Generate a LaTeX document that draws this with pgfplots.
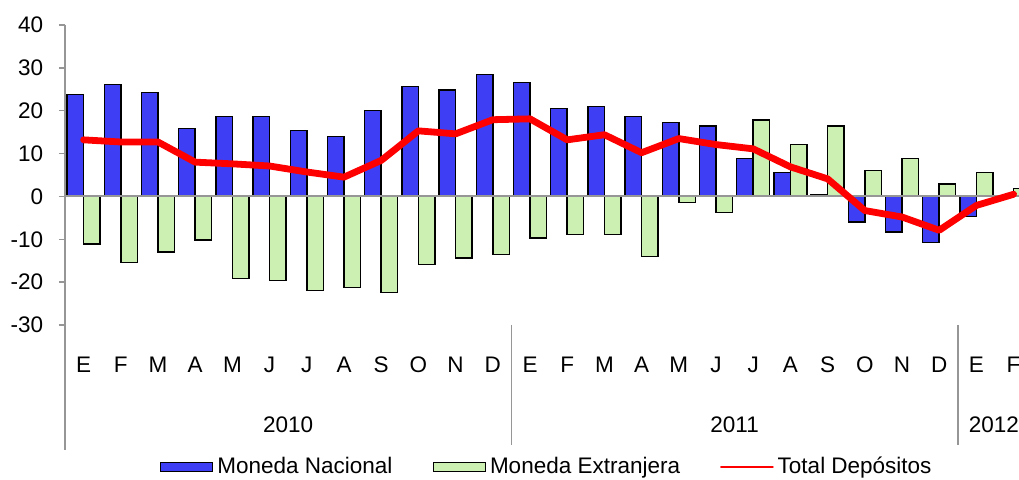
\documentclass[border=0pt]{standalone}
\usepackage{fontspec}
\setmainfont{Liberation Sans}
\usepackage{pgfplots}
\pgfplotsset{compat=1.18}
\definecolor{mnblue}{RGB}{62,62,245}
\definecolor{megreen}{RGB}{204,240,178}
\definecolor{axgray}{RGB}{150,150,150}
\begin{document}
\fontsize{11.25pt}{13pt}\selectfont
\begin{tikzpicture}
\useasboundingbox (0,0) rectangle (509.5pt,240pt);
\begin{axis}[
    at={(32.5pt,77.5pt)}, anchor=south west,
    scale only axis, width=477pt, height=150pt,
    xmin=-0.5, xmax=25.145, ymin=-30, ymax=40,
    clip=false,
    axis lines=left, axis line style={draw=none},
    ytick={-30,-20,...,40},
    yticklabels={-30,-20,-10,0,10,20,30,40},
    ytick style={draw=axgray, line width=0.7pt},
    tick align=outside, major tick length=3pt,
    xtick={0,...,25},
    xticklabels={E,F,M,A,M,J,J,A,S,O,N,D,E,F,M,A,M,J,J,A,S,O,N,D,E,F},
    x tick style={draw=none},
    xticklabel style={yshift=-9pt},
    yticklabel style={xshift=-4pt},
    tick label style={font=\fontsize{11.25pt}{13pt}\selectfont},
    legend columns=3,
    legend style={at={(0.506,-0.473)}, anchor=center, draw=none, fill=none,
        font=\fontsize{11.25pt}{13pt}\selectfont, inner sep=0pt,
        /tikz/every even column/.append style={column sep=18pt}},
]
% Moneda Nacional
\addplot[ybar, bar width=8.25pt, bar shift=-4.125pt, fill=mnblue, draw=black, line width=0.75pt,
    legend image code/.code={\draw[fill=mnblue, draw=black, line width=0.75pt] (0pt,-2.2pt) rectangle (26pt,2.2pt);}]
coordinates {
(0,23.8) (1,26.1) (2,24.2) (3,15.9) (4,18.6) (5,18.6) (6,15.4) (7,14.0) (8,20.1) (9,25.6) (10,24.8) (11,28.4)
(12,26.6) (13,20.5) (14,21.0) (15,18.6) (16,17.2) (17,16.4) (18,8.9) (19,5.6) (20,0.5) (21,-6.0) (22,-8.3) (23,-10.7)
(24,-4.7) (25,0.0)
};
\addlegendentry{Moneda Nacional}
% Moneda Extranjera
\addplot[ybar, bar width=8.25pt, bar shift=4.125pt, fill=megreen, draw=black, line width=0.75pt,
    legend image code/.code={\draw[fill=megreen, draw=black, line width=0.75pt] (0pt,-2.2pt) rectangle (26pt,2.2pt);}]
coordinates {
(0,-11.1) (1,-15.4) (2,-13.0) (3,-10.2) (4,-19.1) (5,-19.6) (6,-22.0) (7,-21.3) (8,-22.4) (9,-15.9) (10,-14.4) (11,-13.6)
(12,-9.7) (13,-8.9) (14,-8.9) (15,-14.0) (16,-1.4) (17,-3.7) (18,17.8) (19,12.1) (20,16.4) (21,6.1) (22,8.9) (23,2.9)
(24,5.6) (25,1.9)
};
\addlegendentry{Moneda Extranjera}
% zero line
\draw[axgray, line width=1pt] (axis cs:-0.5,0) -- (axis cs:25.145,0);
% Total Depositos
\addplot[red, line width=3.4pt, line join=round, line cap=round, mark=none,
    legend image code/.code={\draw[red, line width=0.8pt] (0pt,0pt) -- (26pt,0pt);}]
coordinates {
(0,13.2) (1,12.7) (2,12.7) (3,8.0) (4,7.6) (5,7.1) (6,5.7) (7,4.5) (8,8.4) (9,15.3) (10,14.6) (11,17.9)
(12,18.1) (13,13.2) (14,14.4) (15,10.2) (16,13.5) (17,12.1) (18,11.1) (19,6.9) (20,4.1) (21,-3.3) (22,-4.8) (23,-7.9)
(24,-2.1) (25,0.5)
};
\addlegendentry{Total Depósitos}
% axis and year separators
\draw[axgray, line width=0.7pt] (axis cs:-0.5,40) -- (axis cs:-0.5,-59.1);
\draw[axgray, line width=0.7pt] (axis cs:11.5,-30) -- (axis cs:11.5,-58);
\draw[axgray, line width=0.7pt] (axis cs:23.5,-30) -- (axis cs:23.5,-58);
\node at (axis cs:5.5,-53.3) {2010};
\node at (axis cs:17.5,-53.3) {2011};
\node at (axis cs:24.47,-53.3) {2012};
\end{axis}
\end{tikzpicture}
\end{document}
